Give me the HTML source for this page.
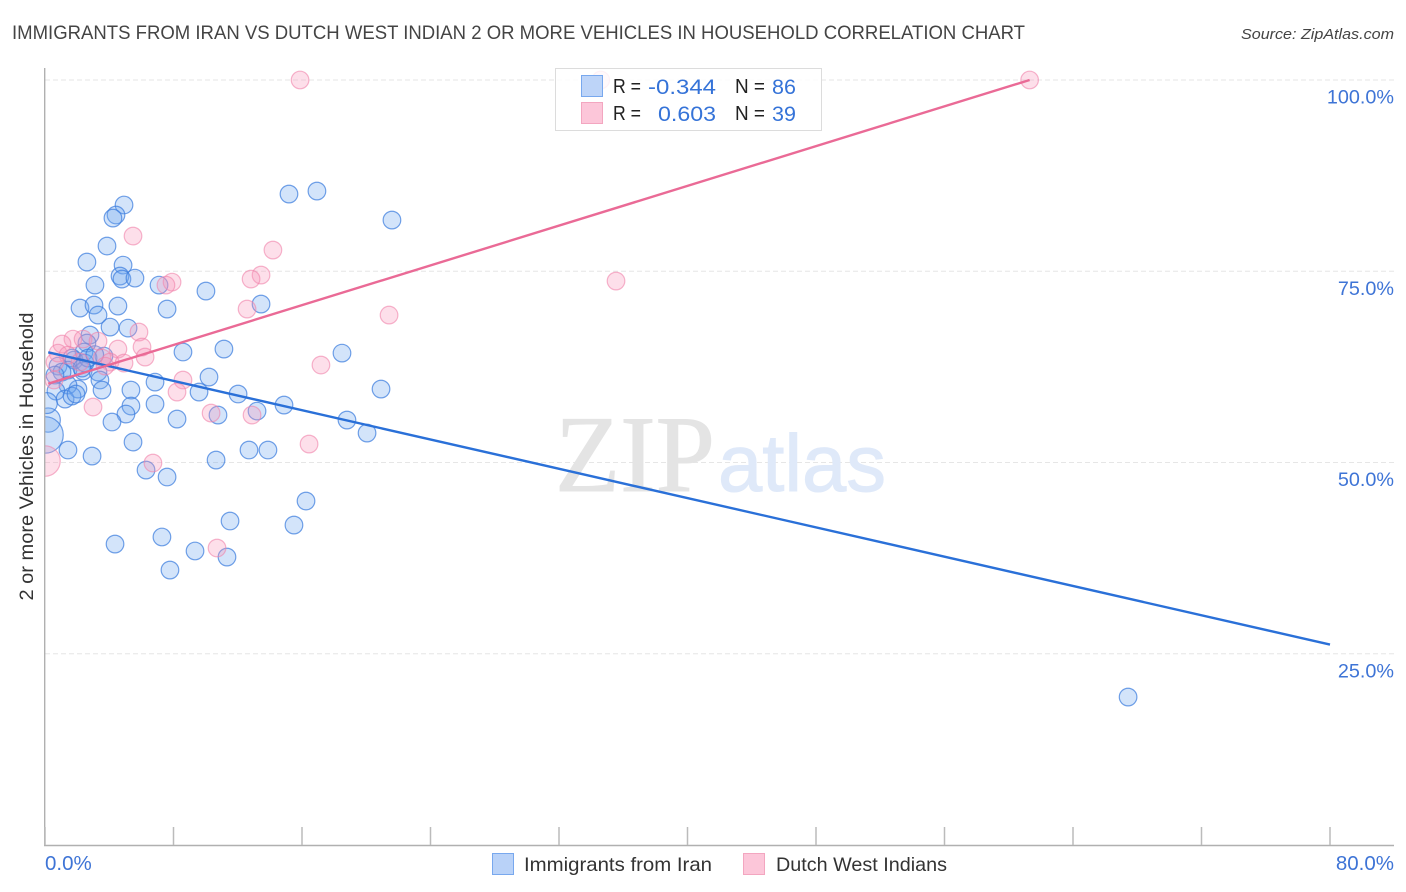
<!DOCTYPE html>
<html lang="en">
<head>
<meta charset="utf-8">
<title>Immigrants from Iran vs Dutch West Indian correlation chart</title>
<style>
html,body{margin:0;padding:0;background:#fff;}
svg{display:block;font-family:"Liberation Sans",sans-serif;}
</style>
</head>
<body>
<svg id="chart" xmlns="http://www.w3.org/2000/svg" width="1406" height="892" viewBox="0 0 1406 892">
  <defs><clipPath id="plot-clip"><rect x="45" y="60" width="1349" height="785"/></clipPath></defs>
  <rect width="1406" height="892" fill="#fff"/>
  <text x="12" y="39" font-size="19" fill="#444" textLength="1013" lengthAdjust="spacingAndGlyphs">IMMIGRANTS FROM IRAN VS DUTCH WEST INDIAN 2 OR MORE VEHICLES IN HOUSEHOLD CORRELATION CHART</text>
  <text x="1394" y="39" font-size="15" font-style="italic" fill="#444" text-anchor="end" textLength="153" lengthAdjust="spacingAndGlyphs">Source: ZipAtlas.com</text>
  <g id="grid"></g>
  <g>
    <text x="555" y="491" font-family="'Liberation Serif',serif" font-size="109" fill="#e4e4e4" stroke="#e4e4e4" stroke-width="1" textLength="160" lengthAdjust="spacingAndGlyphs">ZIP</text>
    <text x="718" y="491" font-size="81" fill="#dfe9f9" stroke="#dfe9f9" stroke-width="1" textLength="168" lengthAdjust="spacingAndGlyphs">atlas</text>
  </g>
  <g id="points" clip-path="url(#plot-clip)"></g>
  <rect x="0" y="60" width="44.5" height="800" fill="#fff"/>
  <g id="trends"></g>
  <g id="axes">
    <line x1="44.7" y1="68" x2="44.7" y2="846" stroke="#b0b0b0" stroke-width="1.4"/>
    <line x1="44" y1="845.5" x2="1394" y2="845.5" stroke="#b0b0b0" stroke-width="1.4"/>
  </g>
  <text transform="translate(33,456.5) rotate(-90)" font-size="19" fill="#333" text-anchor="middle" textLength="288" lengthAdjust="spacingAndGlyphs">2 or more Vehicles in Household</text>
  <g>
    <rect x="555.5" y="68.5" width="266" height="62" fill="#fff" fill-opacity="0.82" stroke="#dcdcdc" stroke-width="1"/>
    <rect x="581.5" y="75.5" width="21" height="21" fill="#b9d2f8" fill-opacity=".95" stroke="#78a8ee"/>
    <rect x="581.5" y="102.5" width="21" height="21" fill="#fcc6d9" stroke="#f3a6c0"/>
    <g font-size="20" fill="#222">
      <text x="613" y="93" textLength="28" lengthAdjust="spacingAndGlyphs">R =</text>
      <text x="613" y="120" textLength="28" lengthAdjust="spacingAndGlyphs">R =</text>
      <text x="735" y="93" textLength="30" lengthAdjust="spacingAndGlyphs">N =</text>
      <text x="735" y="120" textLength="30" lengthAdjust="spacingAndGlyphs">N =</text>
    </g>
    <g font-size="21.5" fill="#3573d8">
      <text x="648" y="94" textLength="68" lengthAdjust="spacingAndGlyphs">-0.344</text>
      <text x="658" y="121" textLength="58" lengthAdjust="spacingAndGlyphs">0.603</text>
      <text x="772" y="94">86</text>
      <text x="772" y="121">39</text>
    </g>
  </g>
  <g>
    <rect x="492.5" y="853.5" width="21" height="21" fill="#b9d2f8" stroke="#78a8ee"/>
    <text x="524" y="871" font-size="19.5" fill="#333" textLength="188" lengthAdjust="spacingAndGlyphs">Immigrants from Iran</text>
    <rect x="743.5" y="853.5" width="21" height="21" fill="#fcc6d9" stroke="#f3a6c0"/>
    <text x="776" y="871" font-size="19.5" fill="#333" textLength="171" lengthAdjust="spacingAndGlyphs">Dutch West Indians</text>
  </g>
</svg>
<script>
const iranX = [4.92,4.42,4.23,3.86,2.61,4.86,4.67,4.79,5.6,3.11,7.1,10.02,2.18,3.05,4.54,7.6,3.3,13.45,4.05,5.17,2.8,2.61,8.59,11.14,2.43,3.67,1.81,18.49,15.19,16.93,21.6,20.92,1.68,0.81,1.43,1.06,0.62,2.37,3.3,3.42,10.21,6.85,5.35,3.55,2.05,1.43,0.68,1.25,1.68,1.93,9.59,12.02,6.85,5.35,5.04,4.17,8.22,10.77,13.2,14.88,18.8,20.05,0.2,5.48,12.7,13.88,1.43,2.93,10.65,6.29,7.6,16.25,11.52,15.5,4.36,7.28,9.34,11.33,7.78,67.43,2.49,2.68,2.3,0.12,0,3.1];
const iranY = [83.66,82.35,81.95,78.29,76.2,75.8,74.37,73.98,74.1,73.19,73.19,72.41,70.19,70.58,70.45,70.06,69.27,70.71,67.7,67.57,66.66,65.61,64.44,64.83,64.44,63.91,63.39,64.3,85.09,85.48,81.69,59.6,63.65,62.6,62.08,61.82,61.43,61.95,61.82,60.78,61.17,60.51,59.47,59.47,59.6,60.12,59.34,58.29,58.68,58.95,59.21,58.95,57.64,57.38,56.33,55.29,55.68,56.2,56.72,57.51,55.55,53.85,55.55,52.67,51.63,51.63,51.63,50.84,50.32,49.01,48.1,44.96,42.35,41.82,39.34,40.26,38.43,37.64,35.94,19.34,63,63.65,62.34,57.77,53.6,64.1];
const iranWeight = [1,1,1,1,1,1,1,1,1,1,1,1,1,1,1,1,1,1,1,1,1,1,1,1,1,1,1,1,1,1,1,1,1,1,1,1,1,1,1,1,1,1,1,1,1,1,1,1,1,1,1,1,1,1,1,1,1,1,1,1,1,1,1.9,1,1,1,1,1,1,1,1,1,1,1,1,1,1,1,1,1,1,1,1,1.4,4.3,1];
const dutchX = [15.88,61.3,5.48,14.19,7.91,7.53,13.45,12.83,35.55,12.58,21.42,5.85,1.74,1.06,2.37,3.3,4.54,6.04,6.23,0.81,1.43,0.62,3.55,4.05,4.92,17.18,8.59,8.22,0.56,2.99,10.34,12.89,16.44,6.72,0,10.71,34.6,2.18,3.74];
const dutchY = [100,100,79.6,77.77,73.58,73.19,74.5,73.98,73.72,70.06,69.27,67.05,66.13,65.48,66.13,65.87,64.83,65.09,63.78,64.3,64.04,63.13,63.65,63.13,63,62.74,60.78,59.21,60.78,57.25,56.46,56.2,52.41,49.93,50.19,38.82,100,63.13,62.6];
const dutchWeight = [1,1,1,1,1,1,1,1,1,1,1,1,1,1,1,1,1,1,1,1,1,1,1,1,1,1,1,1,1,1,1,1,1,1,3,1,1,1,1];
const iranTrendX = [0.2,80];
const iranTrendY = [64.4,26.2];
const dutchTrendX = [0.2,61.3];
const dutchTrendY = [60.3,100];
const yTickValues = [100,75,50,25];
const yTickLabels = ["100.0%","75.0%","50.0%","25.0%"];
const xTickValues = [0,8,16,24,32,40,48,56,64,72,80];
const xEndValues = [0,80];
const xEndLabels = ["0.0%","80.0%"];

const NS = "http://www.w3.org/2000/svg";
function xScale(v){ return 45 + v * 16.0625; }
function yScale(v){ return 845 - v * 7.65; }
function make(tag, attrs, parent){
  const el = document.createElementNS(NS, tag);
  for (const k in attrs) el.setAttribute(k, attrs[k]);
  parent.appendChild(el);
  return el;
}
const gridG = document.getElementById("grid");
const pointsG = document.getElementById("points");
const trendsG = document.getElementById("trends");
const axesG = document.getElementById("axes");
const svgRoot = document.getElementById("chart");

yTickValues.forEach(function(v, i){
  const y = yScale(v);
  const g = make("line", {x1:45, x2:1394, y1:y, y2:y, stroke:"#e6e6e6", "stroke-width":1, "stroke-dasharray":"5 3"}, gridG);
  
  
  const t = make("text", {x:1394, y:y + 23.5, "text-anchor":"end", "font-size":19.8, fill:"#3e74d6"}, svgRoot);
  
  
  t.textContent = yTickLabels[i];
});

xTickValues.forEach(function(v){
  const x = xScale(v);
  const l = make("line", {x1:x, x2:x, y1:827, y2:845, stroke:"#bbb", "stroke-width":1.5}, axesG);
  
  
});

xEndValues.forEach(function(v, i){
  const t = make("text", {x: i === 0 ? xScale(v) : 1394, y:870, "text-anchor": i === 0 ? "start" : "end", "font-size":20.5, fill:"#3e74d6"}, svgRoot);
  
  
  t.textContent = xEndLabels[i];
});

function drawSeries(xs, ys, weights, fill, stroke){
  xs.forEach(function(v, i){
    const c = make("circle", {cx:xScale(v), cy:yScale(ys[i]), r:8.8*Math.sqrt(weights[i]), fill:fill, stroke:stroke, "stroke-width":1.2}, pointsG);
    
    
  });
}
drawSeries(iranX, iranY, iranWeight, "rgba(110,165,240,0.3)", "rgba(60,125,222,0.72)");
drawSeries(dutchX, dutchY, dutchWeight, "rgba(248,150,185,0.3)", "rgba(240,130,170,0.6)");

const iranLine = make("line", {x1:xScale(iranTrendX[0]), y1:yScale(iranTrendY[0]), x2:xScale(iranTrendX[1]), y2:yScale(iranTrendY[1]), stroke:"#2a70d8", "stroke-width":2.4}, trendsG);


const dutchLine = make("line", {x1:xScale(dutchTrendX[0]), y1:yScale(dutchTrendY[0]), x2:xScale(dutchTrendX[1]), y2:yScale(dutchTrendY[1]), stroke:"#ea6a96", "stroke-width":2.4}, trendsG);


</script>
</body>
</html>
